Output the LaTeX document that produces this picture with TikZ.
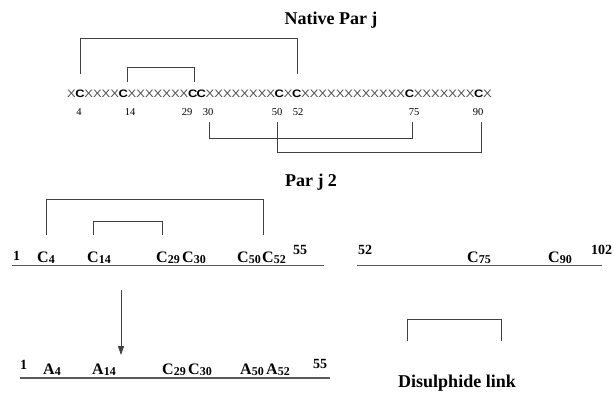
\documentclass[tikz,border=0pt]{standalone}
\usepackage{fontspec}
\setmainfont{Liberation Serif}
\newfontfamily\seqfont[FakeStretch=1.2]{Liberation Sans}
\usetikzlibrary{arrows.meta}
\newcommand\lab[2]{#1\raisebox{-1.7pt}{\fontsize{12}{12}\selectfont #2}}
\tikzset{
 seqchar/.style={font=\seqfont\fontsize{10.8}{10.8}\selectfont, inner sep=0pt, anchor=base},
 resnum/.style={font=\fontsize{10.5}{10.5}\selectfont, inner sep=0pt, anchor=base},
 title/.style={font=\bfseries\fontsize{18}{18}\selectfont, inner sep=0pt, anchor=base},
 lbl/.style={font=\bfseries\fontsize{16}{16}\selectfont, inner sep=0pt, anchor=base west},
 endnum/.style={font=\bfseries\fontsize{14}{14}\selectfont, inner sep=0pt, anchor=base west},
 link/.style={draw=black!75, line width=0.9pt},
 chain/.style={draw=black!65, line width=1.3pt},
}
\begin{document}
\begin{tikzpicture}[x=1pt,y=-1pt]
\useasboundingbox (0,0) rectangle (614,392);
% titles
\node[title] (t1) at (331,24) {Native Par j};
\node[title] (t2) at (311,186) {Par j 2};
% native sequence
\foreach \ch [count=\i] in {X,C,X,X,X,X,C,X,X,X,X,X,X,X,C,C,X,X,X,X,X,X,X,X,C,X,C,X,X,X,X,X,X,X,X,X,X,X,X,C,X,X,X,X,X,X,X,C,X}
  {\node[seqchar] (s\i) at ({67+(\i-0.5)*8.67},97) {\if C\ch\bfseries\else\color{black!70}\fi\ch};}
\node[resnum] (n4) at (79,115) {4};
\node[resnum] (n14) at (130,115) {14};
\node[resnum] (n29) at (187,115) {29};
\node[resnum] (n30) at (208,115) {30};
\node[resnum] (n50) at (277,115) {50};
\node[resnum] (n52) at (298,115) {52};
\node[resnum] (n75) at (414,115) {75};
\node[resnum] (n90) at (478,115) {90};
% native disulphide links
\draw[link] (s2.north |- 0,74) |- ([xshift=1]s27.north |- 0,38) -- ([xshift=1]s27.north |- 0,74);
\draw[link] ([xshift=4]s7.north |- 0,82) |- ([xshift=2]s15.north |- 0,67) -- ([xshift=2]s15.north |- 0,82);
\draw[link] ([xshift=1]n30.south |- 0,122) |- ([xshift=-2]n75.south |- 0,138) -- ([xshift=-2]n75.south |- 0,122);
\draw[link] (n50.south |- 0,122) |- ([xshift=3]n90.south |- 0,152) -- ([xshift=3]n90.south |- 0,122);
% Par j 2 chains
\node[endnum] (p1) at (13,260) {1};
\node[lbl] (c4) at (37,262) {\lab{C}{4}};
\node[lbl] (c14) at (87,262) {\lab{C}{14}};
\node[lbl] (c29) at (156,262) {\lab{C}{29}};
\node[lbl] (c30) at (182,262) {\lab{C}{30}};
\node[lbl] (c50) at (237,262) {\lab{C}{50}};
\node[lbl] (c52) at (262,262) {\lab{C}{52}};
\node[endnum] (p55) at (293,254) {55};
\node[endnum] (q52) at (358,254) {52};
\node[lbl] (c75) at (467,262) {\lab{C}{75}};
\node[lbl] (c90) at (548,262) {\lab{C}{90}};
\node[endnum] (q102) at (591,254) {102};
\coordinate (la) at (12,265.5); \coordinate (lb) at (324,265.5);
\coordinate (ra) at (357,265.5); \coordinate (rb) at (602,265.5);
\draw[chain] (la) -- (lb);
\draw[chain] (ra) -- (rb);
\draw[link] ([xshift=9]c4.west |- 0,235) |- ([xshift=1]c52.west |- 0,199) -- ([xshift=1]c52.west |- 0,235);
\draw[link] ([xshift=6]c14.west |- 0,235) |- ([xshift=6]c29.west |- 0,221) -- ([xshift=6]c29.west |- 0,235);
% arrow
\coordinate (ar1) at (121,290); \coordinate (ar2) at (121,355);
\draw[link, -{Triangle[width=6pt,length=9pt]}] (ar1) -- (ar2);
% mutant chain
\node[endnum] (m1) at (20,369) {1};
\node[lbl] (a4) at (43,374) {\lab{A}{4}};
\node[lbl] (a14) at (92,374) {\lab{A}{14}};
\node[lbl] (m29) at (162,374) {\lab{C}{29}};
\node[lbl] (m30) at (188,374) {\lab{C}{30}};
\node[lbl] (a50) at (240,374) {\lab{A}{50}};
\node[lbl] (a52) at (266,374) {\lab{A}{52}};
\node[endnum] (m55) at (313,368) {55};
\coordinate (ma) at (20,378); \coordinate (mb) at (330,378);
\draw[chain] (ma) -- (mb);
% legend
\coordinate (d1) at (407,341); \coordinate (d2) at (501,319); \coordinate (d3) at (501,341);
\draw[link] (d1) |- (d2) -- (d3);
\node[title] (dl) at (457,387) {Disulphide link};
\end{tikzpicture}
\end{document}
